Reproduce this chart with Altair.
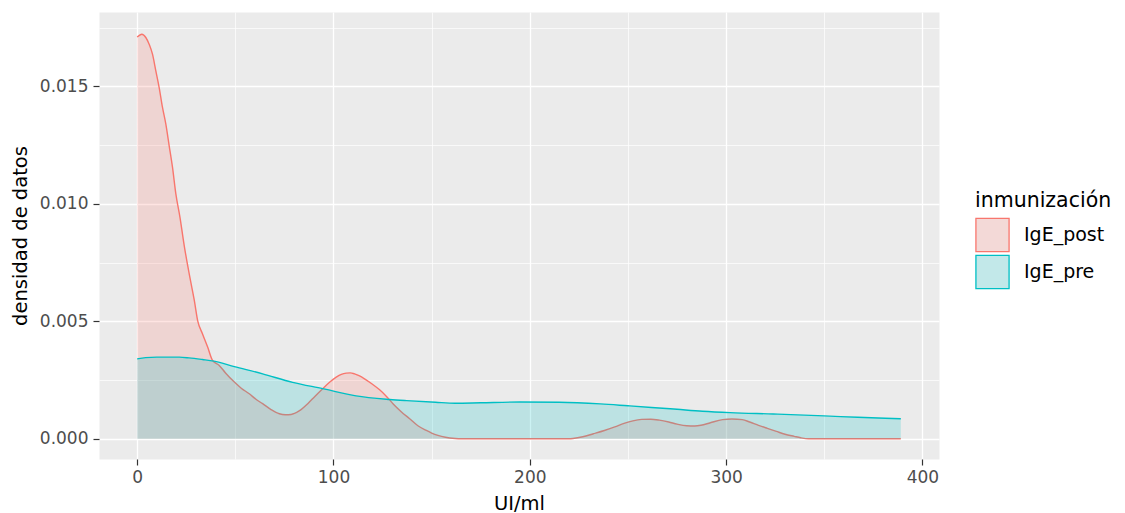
import altair as alt
import pandas as pd

# ---- data ----
groups = ["IgE_post", "IgE_pre"]
line_colors = ["#F8766D", "#00BFC4"]
fill_colors = ["rgba(248,118,109,0.2)", "rgba(0,191,196,0.2)"]
key_colors = ["#F3D9D7", "#C2E8E9"]  # 20% fill drawn on the grey legend key

post_x = [0, 2.4, 4.4, 6.1, 7.8, 9.5, 11.2, 12.9, 14.6, 16.3, 18, 19.7, 21.8, 24, 27,
          29.1, 30.8, 33.3, 35.9, 38.4, 41.8, 45, 49.5, 53, 57.1, 60.5, 63.9, 68, 72.4,
          75.5, 78.4, 82.5, 86.9, 90.5, 94.5, 98, 101.4, 104, 106.5, 108.5, 110.7, 113,
          115.8, 119.5, 123.5, 127, 130.3, 134.5, 138.8, 143, 147.3, 150, 153.2, 157, 162,
          165, 180, 200, 220, 222, 227, 232.4, 238, 243.3, 248, 252.5, 257, 261.6, 266,
          270.8, 275, 279.9, 284, 287.2, 292, 298.2, 303, 308.2, 312, 316.5, 321, 325.6,
          330, 334.7, 338, 342, 360, 389]
post_y = [0.01710, 0.01722, 0.01708, 0.01679, 0.01637, 0.01566, 0.01495, 0.01410, 0.01339,
          0.01247, 0.01155, 0.01042, 0.00942, 0.00820, 0.00680, 0.00589, 0.00503, 0.00446,
          0.00390, 0.00333, 0.00312, 0.00280, 0.00241, 0.00215, 0.00191, 0.00168, 0.00149,
          0.00125, 0.00106, 0.00102, 0.00103, 0.00118, 0.00149, 0.00180, 0.00213, 0.00240,
          0.00262, 0.00274, 0.00279, 0.00280, 0.00276, 0.00268, 0.00255, 0.00234, 0.00208,
          0.00180, 0.00149, 0.00115, 0.00085, 0.00055, 0.00035, 0.00024, 0.00014, 0.00006,
          0.00001, 0.0, 0.0, 0.0, 0.0, 0.00001, 0.00008, 0.00021, 0.00035, 0.00050, 0.00065,
          0.00076, 0.00082, 0.00083, 0.00079, 0.00071, 0.00062, 0.00055, 0.00054, 0.00057,
          0.00068, 0.00081, 0.00084, 0.00081, 0.00071, 0.00057, 0.00044, 0.00031, 0.00019,
          0.00010, 0.00004, 0.0, 0.0, 0.0]

pre_x = [0, 4.3, 10, 21.4, 26.4, 33.3, 39.1, 49.5, 63.9, 79.2, 94.5, 111.5, 128.6, 137.2,
         152, 162, 175, 195, 215, 236, 250, 262, 275, 288, 302, 324, 350, 367, 381, 389]
pre_y = [0.00340, 0.00345, 0.00347, 0.00347, 0.00344, 0.00337, 0.00330, 0.00307, 0.00276,
         0.00240, 0.00213, 0.00182, 0.00167, 0.00162, 0.00155, 0.00151, 0.00153, 0.00156,
         0.00155, 0.00148, 0.00140, 0.00133, 0.00125, 0.00117, 0.00111, 0.00105, 0.00097,
         0.00091, 0.00087, 0.00085]

x_ticks = [0, 50, 100, 150, 200, 250, 300, 350, 400]
y_ticks = [0, 0.0025, 0.005, 0.0075, 0.01, 0.0125, 0.015, 0.0175]

df = pd.concat([
    pd.DataFrame({"x": post_x, "y": post_y, "grupo": groups[0]}),
    pd.DataFrame({"x": pre_x, "y": pre_y, "grupo": groups[1]}),
], ignore_index=True)

FONT = "DejaVu Sans"

x_enc = alt.X(
    "x:Q",
    scale=alt.Scale(domain=[-19.45, 408.45], nice=False, zero=False),
    title="UI/ml",
    axis=alt.Axis(
        values=x_ticks,
        labelExpr="datum.value % 100 === 0 ? datum.label : ''",
        grid=True,
        gridColor="white",
        gridWidth={"condition": {"test": "datum.value % 100 === 0", "value": 1.3}, "value": 0.7},
        tickOpacity={"condition": {"test": "datum.value % 100 === 0", "value": 1}, "value": 0},
        tickColor="#333333",
        tickSize=6,
        tickWidth=1.2,
        domain=False,
        labelFont=FONT,
        labelFontSize=17,
        labelColor="#4D4D4D",
        labelPadding=4,
        titleFont=FONT,
        titleFontSize=19.5,
        titleFontWeight="normal",
        titleColor="black",
        titlePadding=9,
    ),
)

y_enc = alt.Y(
    "y:Q",
    scale=alt.Scale(domain=[-0.000865, 0.018165], nice=False, zero=False),
    title="densidad de datos",
    stack=False,
    axis=alt.Axis(
        values=y_ticks,
        format=".3f",
        labelExpr="round(datum.value * 400) % 2 === 0 ? datum.label : ''",
        grid=True,
        gridColor="white",
        gridWidth={"condition": {"test": "round(datum.value * 400) % 2 === 0", "value": 1.3}, "value": 0.7},
        tickOpacity={"condition": {"test": "round(datum.value * 400) % 2 === 0", "value": 1}, "value": 0},
        tickColor="#333333",
        tickSize=6,
        tickWidth=1.2,
        domain=False,
        labelFont=FONT,
        labelFontSize=17,
        labelColor="#4D4D4D",
        labelPadding=5,
        titleFont=FONT,
        titleFontSize=19.5,
        titleFontWeight="normal",
        titleColor="black",
        titlePadding=9,
    ),
)

legend_kw = dict(
    title="inmunización",
    orient="none",
    legendX=876,
    legendY=179,
    symbolType="square",
    symbolSize=1100,
    symbolStrokeWidth=1.3,
    symbolOpacity=1,
    rowPadding=-4,
    labelOffset=14,
    labelFont=FONT,
    labelFontSize=19,
    labelColor="black",
    titleFont=FONT,
    titleFontSize=20.5,
    titleFontWeight="normal",
    titleColor="black",
    titlePadding=6,
)

fill_enc = alt.Fill("grupo:N", scale=alt.Scale(domain=groups, range=fill_colors), legend=None)
stroke_enc = alt.Stroke("grupo:N", scale=alt.Scale(domain=groups, range=line_colors),
                        legend=alt.Legend(**legend_kw))
key_enc = alt.Color("grupo:N", scale=alt.Scale(domain=groups, range=key_colors),
                    legend=alt.Legend(**legend_kw))

base = alt.Chart(df)

# legend-only layer (no rows drawn): supplies the legend key fill
key_layer = base.transform_filter("false").mark_point(
    shape="square", filled=True, opacity=1).encode(color=key_enc, stroke=stroke_enc)


def layer_for(g):
    sub = base.transform_filter(alt.datum.grupo == g)
    area = sub.mark_area(interpolate="monotone").encode(x=x_enc, y=y_enc, fill=fill_enc)
    line = sub.mark_line(interpolate="monotone", strokeWidth=1.4).encode(
        x=x_enc, y=y_enc, stroke=stroke_enc)
    return [area, line]


chart = alt.layer(key_layer, *(layer_for(groups[0]) + layer_for(groups[1]))).properties(
    width=840,
    height=447,
    padding={"left": 99, "top": 12, "right": 186, "bottom": 54},
    autosize=alt.AutoSizeParams(type="none"),
    background="white",
).configure_view(fill="#EBEBEB", stroke="transparent")

chart.save("out.html", embed_options={"renderer": "svg", "actions": False})
